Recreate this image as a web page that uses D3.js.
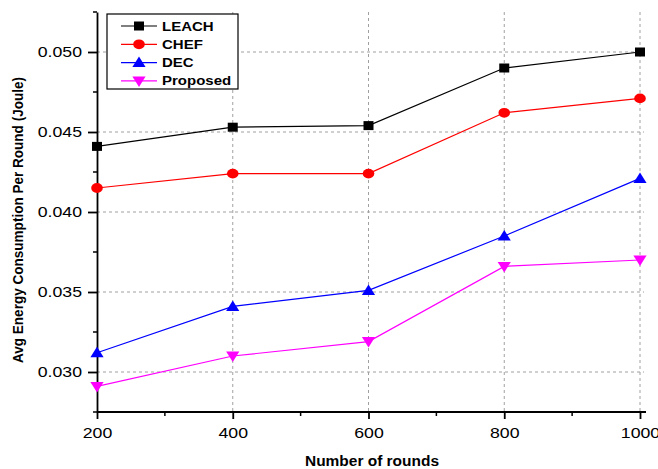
<!DOCTYPE html>
<html>
<head>
<meta charset="utf-8">
<script src="https://cdn.jsdelivr.net/npm/d3@7"></script>
<style>
  html, body { margin: 0; padding: 0; background: #fff; }
  svg { display: block; }
  text { font-family: "Liberation Sans", Arial, sans-serif; }
</style>
</head>
<body>
<svg id="chart" width="658" height="469"></svg>
<script>
// Rounds on the x axis
const rounds = [200, 400, 600, 800, 1000];

// Average energy consumption per round (Joule) for each protocol
const leach    = [0.0441, 0.0453, 0.0454, 0.0490, 0.0500];
const chef     = [0.0415, 0.0424, 0.0424, 0.0462, 0.0471];
const dec      = [0.0312, 0.0341, 0.0351, 0.0385, 0.0421];
const proposed = [0.0291, 0.0310, 0.0319, 0.0366, 0.0370];

const seriesNames = ["LEACH", "CHEF", "DEC", "Proposed"];
const seriesColors = ["#000000", "#ff0000", "#0000ff", "#ff00ff"];
const seriesShapes = ["square", "circle", "triangle", "triangleDown"];
const seriesValues = [leach, chef, dec, proposed];

const xTicks = [200, 400, 600, 800, 1000];
const yTicks = [0.030, 0.035, 0.040, 0.045, 0.050];

const svg = d3.select("#chart");
const plotLeft = 97, plotRight = 640, plotTop = 12, plotBottom = 412;
const textStretch = 1.18; // glyphs are drawn slightly wide

const x = d3.scaleLinear().domain([200, 1000]).range([plotLeft, plotRight]);
const y = d3.scaleLinear().domain([0.0275, 0.0525]).range([plotBottom, plotTop]);

// Dashed grid
const grid = svg.append("g");
grid.selectAll("line.vg").data(xTicks.slice(1)).join("line")
  .attr("class", "vg")
  .attr("x1", d => x(d)).attr("x2", d => x(d))
  .attr("y1", plotTop).attr("y2", plotBottom)
  .attr("stroke", "#a0a0a0").attr("stroke-width", 1).attr("stroke-dasharray", "3,3");
grid.selectAll("line.hg").data(yTicks).join("line")
  .attr("class", "hg")
  .attr("x1", plotLeft).attr("x2", plotRight + 4)
  .attr("y1", d => y(d)).attr("y2", d => y(d))
  .attr("stroke", "#a0a0a0").attr("stroke-width", 1).attr("stroke-dasharray", "3,3");

// Axes
const xAxis = svg.append("g").attr("transform", `translate(0,${plotBottom})`)
  .call(d3.axisBottom(x).tickValues(xTicks).tickFormat(d3.format("d")).tickSize(7).tickSizeOuter(0).tickPadding(8));
xAxis.select(".domain").attr("d", `M${plotLeft},0H${plotRight + 6}`).attr("stroke-width", 1.8);
xAxis.selectAll(".tick line").attr("stroke-width", 1.8);
xAxis.selectAll(".tick text").attr("font-size", 15).attr("fill", "#000")
  .attr("y", 0).attr("transform", `translate(0,15) scale(${textStretch},1)`);
xAxis.selectAll(".minor").data([300, 500, 700, 900]).join("line")
  .attr("class", "minor")
  .attr("x1", d => x(d)).attr("x2", d => x(d)).attr("y1", 0).attr("y2", 4)
  .attr("stroke", "#000").attr("stroke-width", 1.5);

const yAxis = svg.append("g").attr("transform", `translate(${plotLeft},0)`)
  .call(d3.axisLeft(y).tickValues(yTicks).tickFormat(d3.format(".3f")).tickSize(9).tickSizeOuter(0).tickPadding(6));
yAxis.select(".domain").attr("stroke-width", 1.8);
yAxis.selectAll(".tick line").attr("stroke-width", 1.8);
yAxis.selectAll(".tick text").attr("font-size", 15).attr("fill", "#000")
  .attr("x", 0).attr("transform", `translate(-15,0) scale(${textStretch},1)`);
yAxis.selectAll(".minor").data([0.0275, 0.0325, 0.0375, 0.0425, 0.0475, 0.0525]).join("line")
  .attr("class", "minor")
  .attr("x1", -4).attr("x2", 0).attr("y1", d => y(d)).attr("y2", d => y(d))
  .attr("stroke", "#000").attr("stroke-width", 1.5);

// Axis titles
svg.append("text")
  .attr("x", 372).attr("y", 466)
  .attr("text-anchor", "middle").attr("font-size", 14).attr("font-weight", "bold")
  .attr("textLength", 134).attr("lengthAdjust", "spacingAndGlyphs")
  .text("Number of rounds");
svg.append("text")
  .attr("transform", "translate(23,220) rotate(-90)")
  .attr("text-anchor", "middle").attr("font-size", 14).attr("font-weight", "bold")
  .attr("textLength", 286).attr("lengthAdjust", "spacingAndGlyphs")
  .text("Avg Energy Consumption Per Round (Joule)");

// Marker drawing
function drawMarker(g, shape, color, cx, cy) {
  if (shape === "square") {
    g.append("rect").attr("x", cx - 5).attr("y", cy - 4.5).attr("width", 10).attr("height", 9).attr("fill", color);
  } else if (shape === "circle") {
    g.append("ellipse").attr("cx", cx).attr("cy", cy).attr("rx", 5.8).attr("ry", 4.9).attr("fill", color);
  } else if (shape === "triangle") {
    g.append("path").attr("d", `M${cx},${cy - 6}L${cx + 6.6},${cy + 4.5}L${cx - 6.6},${cy + 4.5}Z`).attr("fill", color);
  } else {
    g.append("path").attr("d", `M${cx},${cy + 6}L${cx + 6.6},${cy - 4.5}L${cx - 6.6},${cy - 4.5}Z`).attr("fill", color);
  }
}

// Series lines and markers
const line = d3.line().x(d => x(d[0])).y(d => y(d[1]));
seriesValues.forEach((vals, i) => {
  const pts = rounds.map((r, j) => [r, vals[j]]);
  const g = svg.append("g");
  g.append("path").datum(pts).attr("d", line)
    .attr("fill", "none").attr("stroke", seriesColors[i]).attr("stroke-width", 1.2);
  pts.forEach(p => drawMarker(g, seriesShapes[i], seriesColors[i], x(p[0]), y(p[1])));
});

// Legend
const legend = svg.append("g");
legend.append("rect").attr("x", 107).attr("y", 14).attr("width", 131).attr("height", 75)
  .attr("fill", "#fff").attr("stroke", "#000").attr("stroke-width", 1.2);
seriesNames.forEach((name, i) => {
  const ly = 26 + i * 18.3;
  legend.append("line").attr("x1", 121).attr("x2", 157).attr("y1", ly).attr("y2", ly)
    .attr("stroke", seriesColors[i]).attr("stroke-width", 1.2);
  drawMarker(legend, seriesShapes[i], seriesColors[i], 139, ly);
  legend.append("text")
    .attr("transform", `translate(162,${ly + 4.5}) scale(1.2,1)`)
    .attr("font-size", 12.5).attr("font-weight", "bold").text(name);
});
</script>
</body>
</html>
